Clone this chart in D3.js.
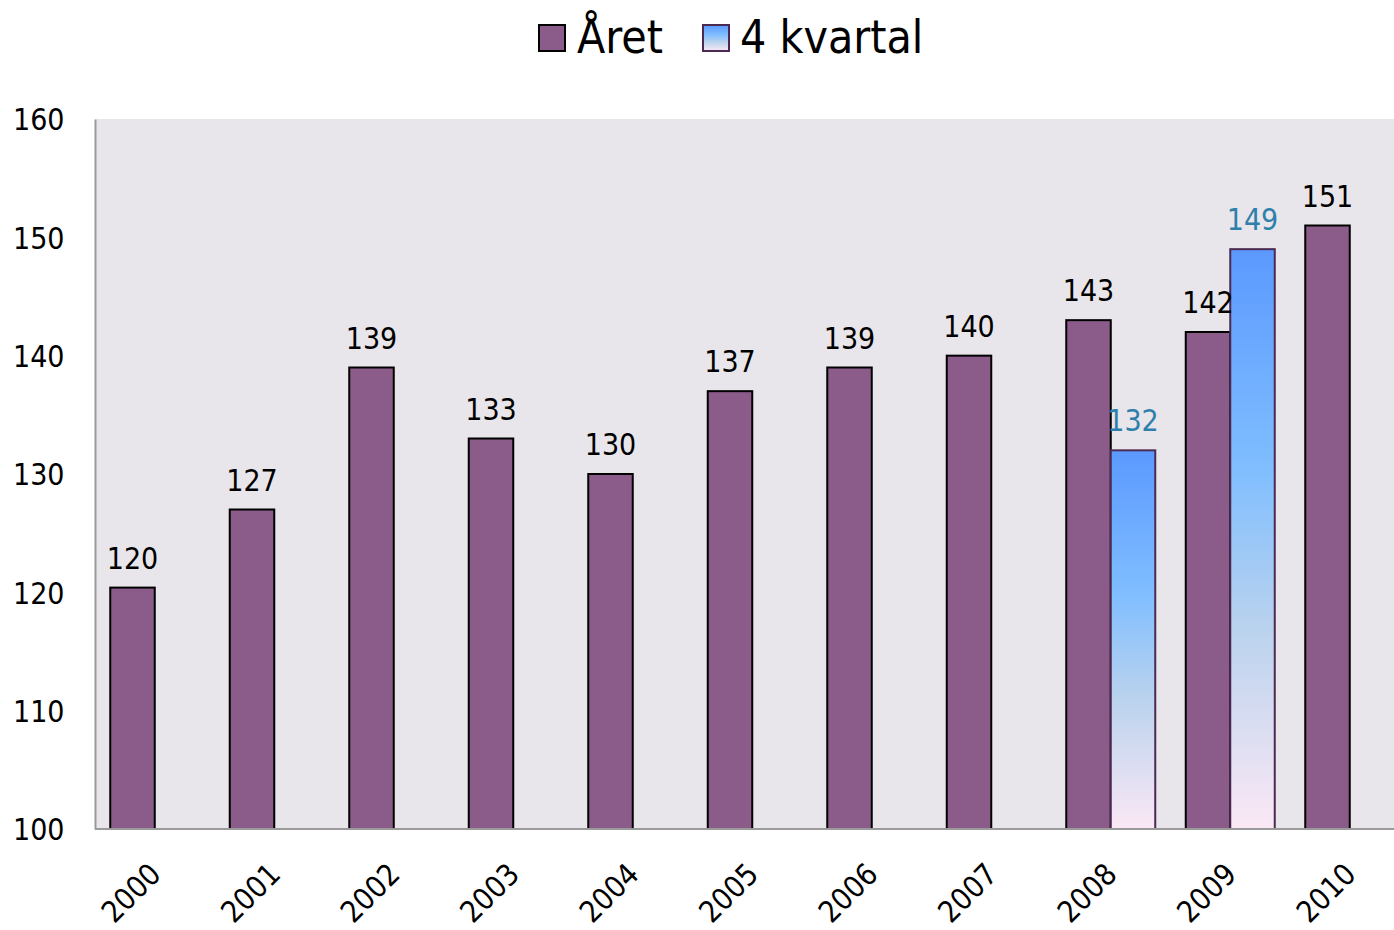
<!DOCTYPE html>
<html>
<head>
<meta charset="utf-8">
<script src="https://cdn.jsdelivr.net/npm/d3@7/dist/d3.min.js"></script>
<style>
  html, body { margin: 0; padding: 0; background: #ffffff; }
  svg { display: block; }
  text { font-family: "DejaVu Sans Condensed", "DejaVu Sans", sans-serif; }
</style>
</head>
<body>
<svg id="chart" width="1394" height="930"></svg>
<script>
const years = ["2000","2001","2002","2003","2004","2005","2006","2007","2008","2009","2010"];
const seriesNames = ["Året", "4 kvartal"];
const aretValues = [120.4, 127, 139, 133, 130, 137, 139, 140, 143, 142, 151];
const kvartalValues = [null, null, null, null, null, null, null, null, 132, 149, null];
const yTicks = [100, 110, 120, 130, 140, 150, 160];

const W = 1394, H = 930;
const margin = { left: 95, top: 119, bottom: 101 };
const plotRight = 1409.5;

const svg = d3.select("#chart");
const defs = svg.append("defs");
const grad = defs.append("linearGradient").attr("id", "kvGrad")
  .attr("x1", 0).attr("y1", 0).attr("x2", 0).attr("y2", 1);
[[0, "#5b99ff"], [0.38, "#80beff"], [0.65, "#b9d2ee"], [1, "#fbe8f5"]].forEach(([o, c]) =>
  grad.append("stop").attr("offset", o).attr("stop-color", c));

const x = d3.scaleBand().domain(years).range([margin.left, plotRight]).paddingInner(0).paddingOuter(0);
const y = d3.scaleLinear().domain([100, 160]).range([H - margin.bottom, margin.top]);
const barW = 44.5;

// plot background
svg.append("rect").attr("x", margin.left).attr("y", y(160))
  .attr("width", plotRight - margin.left).attr("height", y(100) - y(160))
  .attr("fill", "#e8e6ea");

// y axis
const yAxis = d3.axisLeft(y).tickValues(yTicks).tickSize(0).tickPadding(0);
const gy = svg.append("g").attr("transform", `translate(${margin.left},0)`).call(yAxis);
gy.select(".domain").attr("stroke", "#9a9a9a").attr("stroke-width", 2);
gy.selectAll("text").attr("x", -82).attr("text-anchor", "start").attr("dy", "0.36em")
  .attr("font-size", 30).attr("fill", "#000")
  .style("font-family", '"DejaVu Sans Condensed", "DejaVu Sans", sans-serif');

// bars Året
const cx = d => x(d) + x.bandwidth() / 2;
svg.append("g").selectAll("rect").data(years.map((yr, i) => ({ yr, v: aretValues[i] })))
  .join("rect")
  .attr("x", d => cx(d.yr) - barW)
  .attr("y", d => y(d.v))
  .attr("width", barW).attr("height", d => y(100) - y(d.v))
  .attr("fill", "#8b5b89").attr("stroke", "#000").attr("stroke-width", 2);

// bars 4 kvartal
const kvData = years.map((yr, i) => ({ yr, v: kvartalValues[i] })).filter(d => d.v != null);
svg.append("g").selectAll("rect").data(kvData).join("rect")
  .attr("x", d => cx(d.yr))
  .attr("y", d => y(d.v))
  .attr("width", barW).attr("height", d => y(100) - y(d.v))
  .attr("fill", "url(#kvGrad)").attr("stroke", "#4a2a52").attr("stroke-width", 2);

// x axis baseline
svg.append("line").attr("x1", margin.left).attr("x2", plotRight)
  .attr("y1", y(100)).attr("y2", y(100)).attr("stroke", "#9a9a9a").attr("stroke-width", 2);

// data labels
svg.append("g").selectAll("text").data(years.map((yr, i) => ({ yr, v: aretValues[i] })))
  .join("text")
  .attr("x", d => cx(d.yr) - barW / 2)
  .attr("y", d => y(d.v) - 19)
  .attr("text-anchor", "middle").attr("font-size", 30).attr("fill", "#000")
  .text(d => d3.format(".0f")(d.v));
svg.append("g").selectAll("text").data(kvData).join("text")
  .attr("x", d => cx(d.yr) + barW / 2)
  .attr("y", d => y(d.v) - 19)
  .attr("text-anchor", "middle").attr("font-size", 30).attr("fill", "#2e80aa")
  .text(d => d3.format(".0f")(d.v));

// x labels
svg.append("g").selectAll("text").data(years).join("text")
  .attr("transform", d => `translate(${cx(d) + 8},876) rotate(-45)`)
  .attr("text-anchor", "end").attr("font-size", 30).attr("fill", "#000")
  .text(d => d);

// legend
const lg = svg.append("g");
lg.append("rect").attr("x", 539).attr("y", 25).attr("width", 26).attr("height", 26)
  .attr("fill", "#8b5b89").attr("stroke", "#000").attr("stroke-width", 2);
lg.append("text").attr("x", 577).attr("y", 53).attr("font-size", 46).attr("fill", "#000").text(seriesNames[0]);
lg.append("rect").attr("x", 703).attr("y", 25).attr("width", 26).attr("height", 26)
  .attr("fill", "url(#kvGrad)").attr("stroke", "#4a2a52").attr("stroke-width", 2);
lg.append("text").attr("x", 740).attr("y", 53).attr("font-size", 46).attr("fill", "#000").text(seriesNames[1]);
</script>
</body>
</html>
